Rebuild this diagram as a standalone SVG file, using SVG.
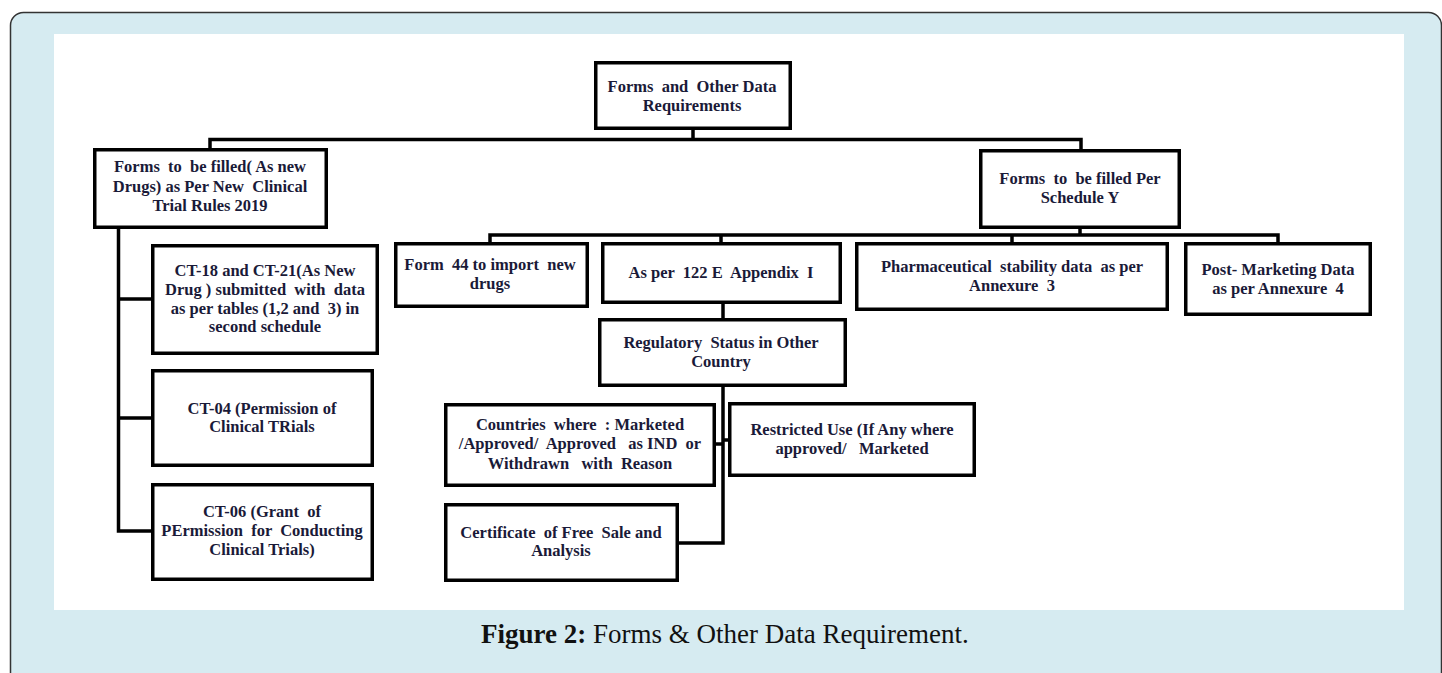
<svg xmlns="http://www.w3.org/2000/svg" width="1442" height="673" viewBox="0 0 1442 673">
<style>
.box{fill:#fff;stroke:#000;stroke-width:3.5}
.ln{fill:none;stroke:#000;stroke-width:3.5;stroke-linecap:square}
.t{font-family:"Liberation Serif","Times New Roman",serif;font-weight:bold;font-size:16.5px;fill:#1a1a38;text-anchor:middle;white-space:pre}
.cap{font-family:"Liberation Serif","DejaVu Serif",serif;font-size:27px;fill:#111}
</style>
<rect x="10.5" y="12.5" width="1431" height="680" rx="13" fill="#d6ebf1" stroke="#333" stroke-width="1.5"/>
<rect x="54" y="34" width="1350" height="576" fill="#fff"/>
<g id="connectors">
<path class="ln" d="M693,130V139.5M210,148V139.5H1081V149"/>
<path class="ln" d="M118.5,229V531M118.5,299H151M118.5,418H151M118.5,531H151"/>
<path class="ln" d="M1080,229V235M490,242V235H1278V242M721,235V242M1012,235V242"/>
<path class="ln" d="M723,304V318"/>
<path class="ln" d="M723,387V543H679M716,444H723M723,440H728"/>
</g>
<g id="root"><rect class="box" x="595.75" y="62.75" width="194.5" height="65.5"/>
<text class="t" x="692" y="92" xml:space="preserve">Forms  and  Other Data</text><text class="t" x="692" y="111">Requirements</text></g>
<g id="clinical"><rect class="box" x="94.75" y="149.75" width="231.5" height="77.5"/>
<text class="t" x="210" y="172" xml:space="preserve">Forms  to  be filled( As new</text><text class="t" x="210" y="192" xml:space="preserve">Drugs) as Per New  Clinical</text><text class="t" x="210" y="211">Trial Rules 2019</text></g>
<g id="scheduleY"><rect class="box" x="980.75" y="150.75" width="198.5" height="76.5"/>
<text class="t" x="1080" y="184" xml:space="preserve">Forms  to  be filled Per</text><text class="t" x="1080" y="203">Schedule Y</text></g>
<g id="ct18"><rect class="box" x="152.75" y="245.75" width="224.5" height="107.5"/>
<text class="t" x="265" y="276">CT-18 and CT-21(As New</text><text class="t" x="265" y="295" xml:space="preserve">Drug ) submitted  with  data</text><text class="t" x="265" y="314" xml:space="preserve">as per tables (1,2 and  3) in</text><text class="t" x="265" y="332">second schedule</text></g>
<g id="ct04"><rect class="box" x="152.75" y="370.75" width="219.5" height="94.5"/>
<text class="t" x="262" y="414">CT-04 (Permission of</text><text class="t" x="262" y="432">Clinical TRials</text></g>
<g id="ct06"><rect class="box" x="152.75" y="484.75" width="219.5" height="94.5"/>
<text class="t" x="262" y="517" xml:space="preserve">CT-06 (Grant  of</text><text class="t" x="262" y="536" xml:space="preserve">PErmission  for  Conducting</text><text class="t" x="262" y="555">Clinical Trials)</text></g>
<g id="form44"><rect class="box" x="395.75" y="243.75" width="191.5" height="62.5"/>
<text class="t" x="490" y="270" xml:space="preserve">Form  44 to import  new</text><text class="t" x="490" y="289">drugs</text></g>
<g id="appendix"><rect class="box" x="602.75" y="243.75" width="237.5" height="58.5"/>
<text class="t" x="721" y="278" xml:space="preserve">As per  122 E  Appendix  I</text></g>
<g id="stability"><rect class="box" x="856.75" y="243.75" width="310.5" height="65.5"/>
<text class="t" x="1012" y="272" xml:space="preserve">Pharmaceutical  stability data  as per</text><text class="t" x="1012" y="291" xml:space="preserve">Annexure  3</text></g>
<g id="postmarketing"><rect class="box" x="1185.75" y="243.75" width="184.5" height="70.5"/>
<text class="t" x="1278" y="275">Post- Marketing Data</text><text class="t" x="1278" y="294" xml:space="preserve">as per Annexure  4</text></g>
<g id="regulatory"><rect class="box" x="599.75" y="319.75" width="245.5" height="65.5"/>
<text class="t" x="721" y="348" xml:space="preserve">Regulatory  Status in Other</text><text class="t" x="721" y="367">Country</text></g>
<g id="countries"><rect class="box" x="445.75" y="404.75" width="268.5" height="80.5"/>
<text class="t" x="580" y="430" xml:space="preserve">Countries  where  : Marketed</text><text class="t" x="580" y="449" xml:space="preserve">/Approved/  Approved   as IND  or</text><text class="t" x="580" y="469" xml:space="preserve">Withdrawn   with  Reason</text></g>
<g id="restricted"><rect class="box" x="729.75" y="403.75" width="244.5" height="71.5"/>
<text class="t" x="852" y="435">Restricted Use (If Any where</text><text class="t" x="852" y="454" xml:space="preserve">approved/   Marketed</text></g>
<g id="certificate"><rect class="box" x="445.75" y="504.75" width="231.5" height="75.5"/>
<text class="t" x="561" y="538" xml:space="preserve">Certificate  of Free  Sale and</text><text class="t" x="561" y="556">Analysis</text></g>
<text class="cap" x="481" y="643"><tspan font-weight="bold">Figure 2:</tspan> Forms &amp; Other Data Requirement.</text>
</svg>
